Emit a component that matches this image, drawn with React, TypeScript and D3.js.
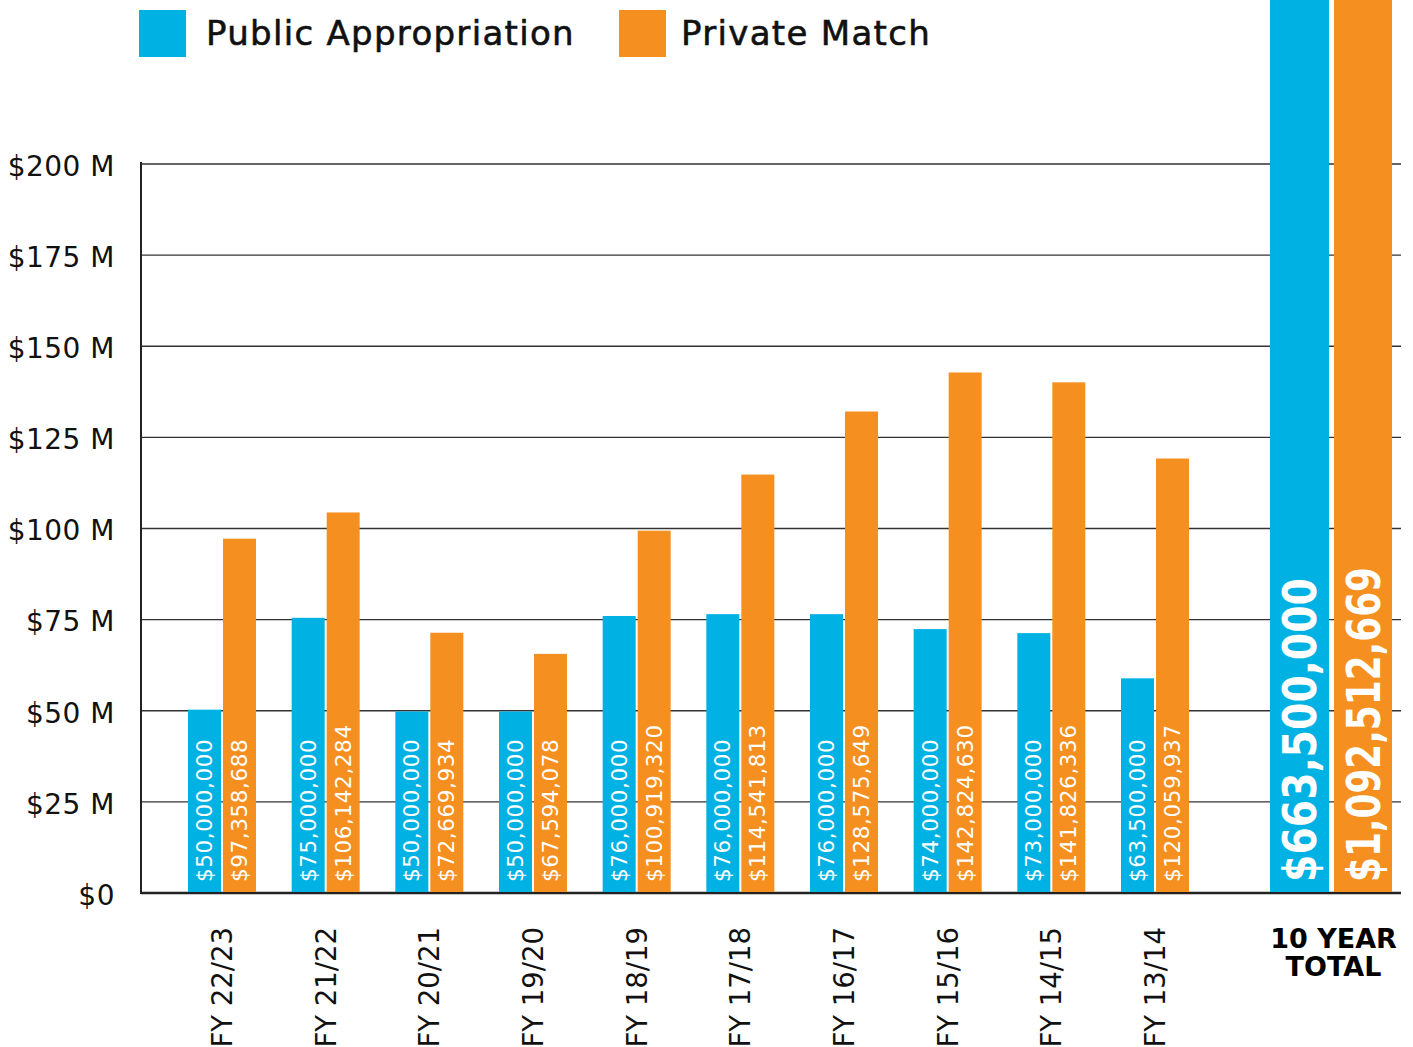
import React from "react";
import * as d3 from "d3";

const years = ["FY 22/23", "FY 21/22", "FY 20/21", "FY 19/20", "FY 18/19", "FY 17/18", "FY 16/17", "FY 15/16", "FY 14/15", "FY 13/14"];
// bar heights as drawn (millions)
const publicBars = [50.3, 75.5, 49.8, 49.8, 76.0, 76.5, 76.5, 72.4, 71.3, 58.9];
const privateBars = [97.2, 104.4, 71.4, 65.6, 99.4, 114.8, 132.1, 142.8, 140.1, 119.2];
// printed values
const publicLabels = ["$50,000,000", "$75,000,000", "$50,000,000", "$50,000,000", "$76,000,000", "$76,000,000", "$76,000,000", "$74,000,000", "$73,000,000", "$63,500,000"];
const privateLabels = ["$97,358,688", "$106,142,284", "$72,669,934", "$67,594,078", "$100,919,320", "$114,541,813", "$128,575,649", "$142,824,630", "$141,826,336", "$120,059,937"];
const totalPublic = 663.5;
const totalPrivate = 1092.5;
const totalPublicLabel = "$663,500,000";
const totalPrivateLabel = "$1,092,512,669";
const yTicks = [0, 25, 50, 75, 100, 125, 150, 175, 200];
const seriesNames = ["Public Appropriation", "Private Match"];

const BLUE = "#00B2E3";
const ORANGE = "#F58F20";
const FONT = "'DejaVu Sans', sans-serif";

export default function App() {
  const W = 1413, H = 1047;
  const y = d3.scaleLinear().domain([0, 200]).range([893, 164]);
  const x = d3.scalePoint<string>().domain(years).range([222, 1155]);
  const xt = d3.scaleBand<string>().domain(["total"]).range([1270, 1393]).paddingInner(0);
  const bw = 33, gap = 2;
  const tw = 59, tgap = 5;
  const tc = (xt("total") as number) + xt.bandwidth() / 2;
  const x0 = 141, x1 = 1401;

  return (
    <svg width={W} height={H} style={{ position: "absolute", left: 0, top: 0, background: "#fff" }} fontFamily={FONT}>
      {/* gridlines */}
      {yTicks.map((t) => (
        <line key={t} x1={x0} x2={x1} y1={y(t)} y2={y(t)} stroke={t === 0 ? "#222" : "#333"} strokeWidth={t === 0 ? 2.5 : 1.3} />
      ))}
      <line x1={x0} x2={x0} y1={y(200) - 2} y2={y(0) + 1} stroke="#222" strokeWidth={2} />
      {yTicks.map((t) => (
        <text key={"l" + t} x={115} y={y(t)} dy="0.42em" textAnchor="end" fontSize={28} fill="#111" letterSpacing={0.5}>
          {t === 0 ? "$0" : `$${t} M`}
        </text>
      ))}

      {/* bars */}
      {years.map((yr, i) => {
        const c = x(yr) as number;
        const bx = c - gap / 2 - bw;
        const ox = c + gap / 2;
        return (
          <g key={yr}>
            <rect x={bx} y={y(publicBars[i])} width={bw} height={y(0) - y(publicBars[i]) - 1} fill={BLUE} />
            <rect x={ox} y={y(privateBars[i])} width={bw} height={y(0) - y(privateBars[i]) - 1} fill={ORANGE} />
            <text transform={`translate(${bx + bw / 2},882) rotate(-90)`} dominantBaseline="central" fontSize={21.5} fill="#fff" letterSpacing={0.6}>
              {publicLabels[i]}
            </text>
            <text transform={`translate(${ox + bw / 2},882) rotate(-90)`} dominantBaseline="central" fontSize={21.5} fill="#fff" letterSpacing={0.6}>
              {privateLabels[i]}
            </text>
            <text transform={`translate(${c},927) rotate(-90)`} dominantBaseline="central" textAnchor="end" fontSize={27.5} fill="#111">
              {yr}
            </text>
          </g>
        );
      })}

      {/* totals */}
      <rect x={tc - tgap / 2 - tw} y={Math.max(0, y(totalPublic))} width={tw} height={y(0) - Math.max(0, y(totalPublic)) - 1} fill={BLUE} />
      <rect x={tc + tgap / 2} y={Math.max(0, y(totalPrivate))} width={tw - 1} height={y(0) - Math.max(0, y(totalPrivate)) - 1} fill={ORANGE} />
      <text transform={`translate(${tc - tgap / 2 - tw / 2},882) rotate(-90)`} dominantBaseline="central" fontSize={46} fontWeight="bold" fill="#fff" textLength={304} lengthAdjust="spacingAndGlyphs">
        {totalPublicLabel}
      </text>
      <text transform={`translate(${tc + tgap / 2 + tw / 2},882) rotate(-90)`} dominantBaseline="central" fontSize={46} fontWeight="bold" fill="#fff" textLength={315} lengthAdjust="spacingAndGlyphs">
        {totalPrivateLabel}
      </text>
      <text x={tc + 2} y={948} textAnchor="middle" fontSize={27} fontWeight="bold" fill="#000">10 YEAR</text>
      <text x={tc + 2} y={976} textAnchor="middle" fontSize={27} fontWeight="bold" fill="#000">TOTAL</text>

      {/* legend */}
      <rect x={139} y={10} width={47} height={47} fill={BLUE} />
      <text x={206} y={45} fontSize={34} fill="#111" stroke="#111" strokeWidth={0.6} letterSpacing={1.3}>{seriesNames[0]}</text>
      <rect x={619} y={10} width={47} height={47} fill={ORANGE} />
      <text x={681} y={45} fontSize={34} fill="#111" stroke="#111" strokeWidth={0.6} letterSpacing={1.3}>{seriesNames[1]}</text>
    </svg>
  );
}
